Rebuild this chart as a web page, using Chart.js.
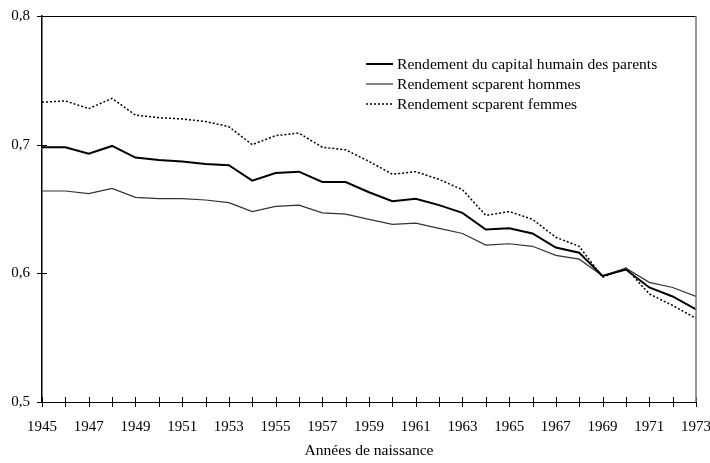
<!DOCTYPE html>
<html lang="fr">
<head>
<meta charset="utf-8">
<title>Rendement du capital humain des parents</title>
<script src="https://cdn.jsdelivr.net/npm/chart.js@4.4.1/dist/chart.umd.min.js"></script>
<style>
    html, body { margin: 0; padding: 0; background: #fff; }
    #wrap { width: 710px; height: 463px; position: relative; }
</style>
</head>
<body>
<div id="wrap"><canvas id="rendementChart"></canvas></div>
<script>
// --- Data ---
const years = [1945, 1946, 1947, 1948, 1949, 1950, 1951, 1952, 1953, 1954,
               1955, 1956, 1957, 1958, 1959, 1960, 1961, 1962, 1963, 1964,
               1965, 1966, 1967, 1968, 1969, 1970, 1971, 1972, 1973];

const parents = [0.698, 0.698, 0.693, 0.699, 0.690, 0.688, 0.687, 0.685, 0.684, 0.672,
                 0.678, 0.679, 0.671, 0.671, 0.663, 0.656, 0.658, 0.653, 0.647, 0.634,
                 0.635, 0.631, 0.620, 0.616, 0.598, 0.603, 0.589, 0.582, 0.572];

const hommes = [0.664, 0.664, 0.662, 0.666, 0.659, 0.658, 0.658, 0.657, 0.655, 0.648,
                0.652, 0.653, 0.647, 0.646, 0.642, 0.638, 0.639, 0.635, 0.631, 0.622,
                0.623, 0.621, 0.614, 0.611, 0.598, 0.604, 0.593, 0.589, 0.582];

const femmes = [0.733, 0.734, 0.728, 0.736, 0.723, 0.721, 0.720, 0.718, 0.714, 0.700,
                0.707, 0.709, 0.698, 0.696, 0.687, 0.677, 0.679, 0.673, 0.665, 0.645,
                0.648, 0.642, 0.628, 0.621, 0.597, 0.604, 0.584, 0.575, 0.565];

const yTicks = [0.5, 0.6, 0.7, 0.8];
const xLabelYears = [1945, 1947, 1949, 1951, 1953, 1955, 1957, 1959, 1961, 1963,
                     1965, 1967, 1969, 1971, 1973];

const serif = "'Liberation Serif', 'DejaVu Serif', serif";

// --- Tick marks crossing the axes, plus the top/right frame ---
const frameAndTicks = {
    id: 'frameAndTicks',
    afterDraw(chart) {
        const ctx = chart.ctx;
        const area = chart.chartArea;
        const xs = chart.scales.x;
        const ys = chart.scales.y;
        ctx.save();
        ctx.strokeStyle = '#000';
        ctx.lineWidth = 1;
        ctx.beginPath();
        years.forEach(yr => {
            const px = Math.round(xs.getPixelForValue(yr)) + 0.5;
            ctx.moveTo(px, area.bottom - 5);
            ctx.lineTo(px, area.bottom + 5);
        });
        yTicks.forEach(v => {
            const py = Math.round(ys.getPixelForValue(v)) + 0.5;
            ctx.moveTo(area.left - 5, py);
            ctx.lineTo(area.left + 5, py);
        });
        ctx.stroke();

        // frame top (black) and right (grey)
        ctx.beginPath();
        ctx.moveTo(area.left, Math.round(area.top) + 0.5);
        ctx.lineTo(area.right, Math.round(area.top) + 0.5);
        ctx.stroke();
        ctx.strokeStyle = '#777';
        ctx.lineWidth = 1.5;
        ctx.beginPath();
        ctx.moveTo(area.right, area.top);
        ctx.lineTo(area.right, area.bottom);
        ctx.stroke();
        ctx.restore();
    }
};

// --- Legend drawn inside the plot, top right ---
const innerLegend = {
    id: 'innerLegend',
    afterDraw(chart) {
        const ctx = chart.ctx;
        const area = chart.chartArea;
        const x0 = area.left + 324;
        const y0 = area.top + 48;
        ctx.save();
        ctx.font = '15.6px ' + serif;
        ctx.textBaseline = 'middle';
        ctx.fillStyle = '#000';
        chart.data.datasets.forEach((ds, i) => {
            const y = y0 + i * 20;
            ctx.strokeStyle = ds.borderColor;
            ctx.lineWidth = ds.borderWidth;
            ctx.setLineDash(ds.borderDash || []);
            ctx.beginPath();
            ctx.moveTo(x0, y);
            ctx.lineTo(x0 + 27, y);
            ctx.stroke();
            ctx.setLineDash([]);
            ctx.fillText(ds.label, x0 + 31, y + 1);
        });
        ctx.restore();
    }
};

document.addEventListener('DOMContentLoaded', () => {
    const ctx = document.getElementById('rendementChart').getContext('2d');
    new Chart(ctx, {
        type: 'line',
        data: {
            labels: years,
            datasets: [
                {
                    label: 'Rendement du capital humain des parents',
                    data: parents,
                    borderColor: '#000',
                    borderWidth: 2,
                    pointRadius: 0,
                    tension: 0
                },
                {
                    label: 'Rendement scparent hommes',
                    data: hommes,
                    borderColor: '#333',
                    borderWidth: 1.2,
                    pointRadius: 0,
                    tension: 0
                },
                {
                    label: 'Rendement scparent femmes',
                    data: femmes,
                    borderColor: '#000',
                    borderWidth: 1.5,
                    borderDash: [2, 2],
                    pointRadius: 0,
                    tension: 0
                }
            ]
        },
        options: {
            responsive: true,
            maintainAspectRatio: false,
            animation: false,
            layout: { padding: { top: 16, right: 14, bottom: 0, left: 0 } },
            plugins: {
                legend: { display: false },
                tooltip: { enabled: false }
            },
            scales: {
                x: {
                    type: 'linear',
                    min: 1945,
                    max: 1973,
                    grid: { display: false, drawTicks: false },
                    border: { display: true, color: '#000', width: 1 },
                    afterBuildTicks: scale => {
                        scale.ticks = xLabelYears.map(v => ({ value: v }));
                    },
                    ticks: {
                        autoSkip: false,
                        maxRotation: 0,
                        padding: 16,
                        color: '#000',
                        font: { family: serif, size: 15 },
                        callback: v => String(v)
                    },
                    title: {
                        display: true,
                        text: 'Années de naissance',
                        color: '#000',
                        font: { family: serif, size: 15.6 },
                        padding: { top: 0, bottom: 3 }
                    },
                    afterFit: scale => {
                        scale.height = 61;
                        scale.paddingLeft = 0;
                        scale.paddingRight = 0;
                    }
                },
                y: {
                    min: 0.5,
                    max: 0.8,
                    grid: { display: false, drawTicks: false },
                    border: { display: true, color: '#000', width: 1.5 },
                    afterBuildTicks: scale => {
                        scale.ticks = yTicks.map(v => ({ value: v }));
                    },
                    ticks: {
                        padding: 12,
                        color: '#000',
                        font: { family: serif, size: 15 },
                        callback: v => v.toFixed(1).replace('.', ',')
                    },
                    afterFit: scale => {
                        scale.width = 42;
                        scale.paddingTop = 0;
                        scale.paddingBottom = 0;
                    }
                }
            }
        },
        plugins: [frameAndTicks, innerLegend]
    });
});
</script>
</body>
</html>
